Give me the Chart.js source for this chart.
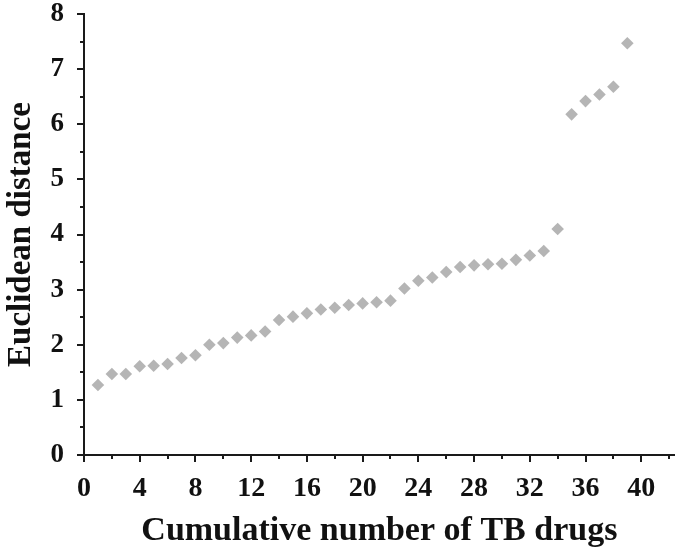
<!DOCTYPE html>
<html>
<head>
<meta charset="utf-8">
<script src="https://cdn.jsdelivr.net/npm/chart.js@4.4.1/dist/chart.umd.min.js"></script>
<style>
  html, body { margin: 0; padding: 0; background: #fff; }
  #chartDistance { display: block; }
</style>
</head>
<body>
<canvas id="chartDistance" width="681" height="552"></canvas>
<script>
// Nombre cumulé de médicaments TB (axe x)
const drugCount = [1, 2, 3, 4, 5, 6, 7, 8, 9, 10, 11, 12, 13, 14, 15, 16, 17, 18, 19, 20,
                   21, 22, 23, 24, 25, 26, 27, 28, 29, 30, 31, 32, 33, 34, 35, 36, 37, 38, 39];
// Distance euclidienne (axe y)
const euclidDist = [1.27, 1.47, 1.47, 1.61, 1.62, 1.65, 1.76, 1.81, 2.00, 2.03,
                    2.13, 2.17, 2.24, 2.45, 2.51, 2.57, 2.64, 2.67, 2.72, 2.75,
                    2.77, 2.80, 3.02, 3.16, 3.22, 3.32, 3.41, 3.44, 3.46, 3.47,
                    3.54, 3.62, 3.70, 4.10, 6.18, 6.42, 6.54, 6.68, 7.47];
const xTicks = [0, 4, 8, 12, 16, 20, 24, 28, 32, 36, 40];
const yTicks = [0, 1, 2, 3, 4, 5, 6, 7, 8];

const FONT = '"Liberation Serif", "Times New Roman", serif';
const AXIS_COLOR = '#1a1a1a';

// Petits traits de graduation (majeurs + mineurs), dessinés à la main
const tickMarks = {
    id: 'tickMarks',
    afterDraw(chart) {
        const ctx = chart.ctx;
        const xs = chart.scales.x, ys = chart.scales.y;
        ctx.save();
        ctx.strokeStyle = AXIS_COLOR;
        ctx.lineWidth = 2;
        ctx.beginPath();
        for (let v = 0; v <= 42; v += 2) {
            const px = Math.round(xs.getPixelForValue(v));
            const len = (v % 4 === 0) ? 7 : 4;
            ctx.moveTo(px, xs.top);
            ctx.lineTo(px, xs.top + len);
        }
        for (let v = 0; v <= 8; v += 0.5) {
            const py = Math.round(ys.getPixelForValue(v));
            const len = Number.isInteger(v) ? 7 : 4;
            ctx.moveTo(ys.right, py);
            ctx.lineTo(ys.right - len, py);
        }
        ctx.stroke();
        ctx.restore();
    }
};

const canvas = document.getElementById('chartDistance');

new Chart(canvas, {
    type: 'scatter',
    data: {
        datasets: [{
            label: 'Euclidean distance',
            data: drugCount.map((x, i) => ({ x: x, y: euclidDist[i] })),
            pointStyle: 'rectRot',
            pointRadius: 6.3,
            backgroundColor: '#b5b5b5',
            borderColor: '#b5b5b5',
            borderWidth: 0
        }]
    },
    options: {
        responsive: false,
        animation: false,
        layout: { padding: { top: 0, right: 2, left: 2, bottom: 0 } },
        plugins: {
            legend: { display: false },
            tooltip: { enabled: false }
        },
        scales: {
            x: {
                type: 'linear',
                min: 0,
                max: 42.4,
                afterBuildTicks: (scale) => { scale.ticks = xTicks.map(v => ({ value: v })); },
                afterFit: (scale) => {
                    scale.height = 97;
                    scale.paddingLeft = 0;
                    scale.paddingRight = 0;
                },
                ticks: {
                    font: { family: FONT, size: 28, weight: 'bold' },
                    color: '#111',
                    padding: 17,
                    maxRotation: 0
                },
                grid: { display: false, drawTicks: false },
                border: { display: true, color: AXIS_COLOR, width: 2 },
                title: {
                    display: true,
                    text: 'Cumulative number of TB drugs',
                    font: { family: FONT, size: 34, weight: 'bold' },
                    color: '#111',
                    padding: { top: 3, bottom: 0 }
                }
            },
            y: {
                min: 0,
                max: 8,
                afterBuildTicks: (scale) => { scale.ticks = yTicks.map(v => ({ value: v })); },
                afterFit: (scale) => {
                    scale.width = 82;
                    scale.paddingTop = 14;
                    scale.paddingBottom = 0;
                },
                ticks: {
                    font: { family: FONT, size: 27, weight: 'bold' },
                    color: '#111',
                    padding: 20
                },
                grid: { display: false, drawTicks: false },
                border: { display: true, color: AXIS_COLOR, width: 2 },
                title: {
                    display: true,
                    text: 'Euclidean distance',
                    font: { family: FONT, size: 33, weight: 'bold' },
                    color: '#111',
                    padding: { top: 0, bottom: 6 }
                }
            }
        }
    },
    plugins: [tickMarks]
});
</script>
</body>
</html>
